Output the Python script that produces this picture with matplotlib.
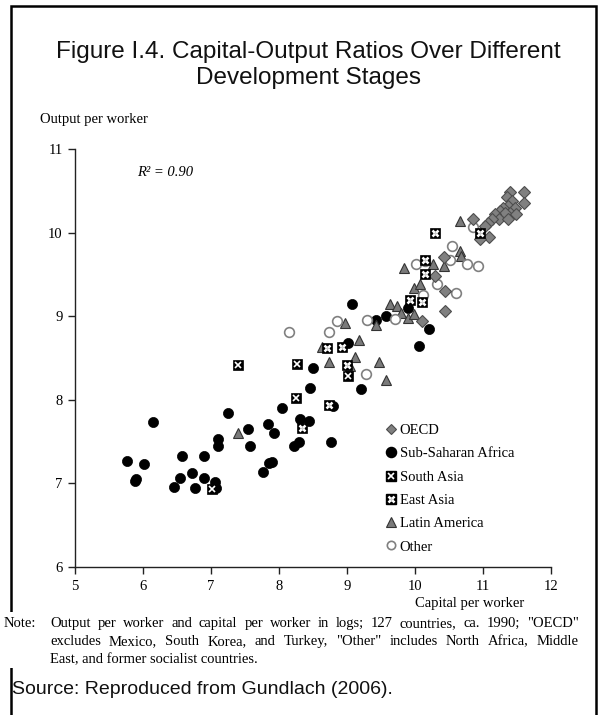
import matplotlib
matplotlib.use("Agg")
import matplotlib.pyplot as plt
from matplotlib.lines import Line2D
from matplotlib.patches import Rectangle

# ---------------- data ----------------
oecd_x = [11.61, 11.40, 11.35, 11.61, 11.42, 11.37, 11.30, 11.25, 11.47, 11.40, 11.49, 11.32, 11.18,
          11.24, 11.13, 11.08, 11.37, 11.03, 10.85, 11.09, 10.95, 10.42, 10.29, 10.44, 10.44, 10.10]
oecd_y = [10.48, 10.48, 10.43, 10.35, 10.38, 10.32, 10.30, 10.26, 10.30, 10.24, 10.22, 10.24, 10.22,
          10.16, 10.16, 10.12, 10.16, 10.08, 10.16, 9.95, 9.92, 9.71, 9.48, 9.30, 9.06, 8.94]

ssa_x = [5.76, 5.88, 5.90, 6.02, 6.15, 6.46, 6.55, 6.58, 6.72, 6.76, 6.89, 6.90, 7.06, 7.08, 7.10, 7.10,
         7.25, 7.54, 7.58, 7.77, 7.84, 7.86, 7.90, 7.93, 8.05, 8.22, 8.30, 8.31, 8.44, 8.45, 8.50, 8.77,
         8.80, 9.01, 9.07, 9.21, 9.43, 9.57, 9.90, 10.06, 10.21]
ssa_y = [7.27, 7.03, 7.05, 7.23, 7.73, 6.96, 7.06, 7.33, 7.12, 6.95, 7.07, 7.33, 7.02, 6.95, 7.53, 7.45,
         7.84, 7.65, 7.45, 7.14, 7.71, 7.24, 7.26, 7.60, 7.90, 7.45, 7.49, 7.77, 7.75, 8.14, 8.38, 7.50,
         7.92, 8.68, 9.14, 8.13, 8.95, 9.00, 9.10, 8.64, 8.85]

sasia_x = [7.02, 7.40, 8.25, 8.26, 9.02]
sasia_y = [6.93, 8.42, 8.02, 8.43, 8.28]

easia_x = [8.34, 8.70, 8.73, 8.92, 9.00, 9.93, 10.11, 10.14, 10.14, 10.29, 10.95]
easia_y = [7.66, 8.62, 7.94, 8.63, 8.42, 9.19, 9.17, 9.51, 9.67, 9.99, 9.99]

latam_x = [7.40, 8.63, 8.74, 8.97, 9.05, 9.12, 9.18, 9.43, 9.47, 9.57, 9.63, 9.73, 9.80, 9.84, 9.90,
           9.98, 9.98, 10.07, 10.27, 10.42, 10.66, 10.67, 10.66]
latam_y = [7.60, 8.63, 8.45, 8.92, 8.41, 8.51, 8.71, 8.90, 8.45, 8.24, 9.14, 9.12, 9.04, 9.58, 8.98,
           9.03, 9.34, 9.39, 9.62, 9.60, 9.78, 9.72, 10.14]

other_x = [8.14, 8.74, 8.86, 9.28, 9.29, 9.71, 10.01, 10.12, 10.15, 10.32, 10.51, 10.54, 10.61,
           10.77, 10.93, 10.86]
other_y = [8.81, 8.81, 8.94, 8.31, 8.96, 8.97, 9.62, 9.25, 9.66, 9.38, 9.67, 9.84, 9.28, 9.62,
           9.60, 10.07]

group_labels = ["OECD", "Sub-Saharan Africa", "South Asia", "East Asia", "Latin America", "Other"]
x_ticks = [5, 6, 7, 8, 9, 10, 11, 12]
y_ticks = [6, 7, 8, 9, 10, 11]

title_lines = ["Figure I.4. Capital-Output Ratios Over Different", "Development Stages"]
note_lines = [
    'Output per worker and capital per worker in logs; 127 countries, ca. 1990; "OECD"',
    'excludes Mexico, South Korea, and Turkey, "Other" includes North Africa, Middle',
    'East, and former socialist countries.',
]
source_text = "Source: Reproduced from Gundlach (2006)."

# ---------------- figure ----------------
W, H = 601, 715
fig = plt.figure(figsize=(W / 100, H / 100), dpi=100)
SERIF = "Liberation Serif"
SANS = "Liberation Sans"

def fx(px):
    return px / W

def fy(py):
    return 1 - py / H

# outer frame
fig.patches.append(Rectangle((fx(11), -0.02), fx(596) - fx(11), fy(6) + 0.02,
                             transform=fig.transFigure, fill=False, lw=1.8,
                             edgecolor="black", zorder=10))
# white patch of the pasted note over the left frame line
fig.patches.append(Rectangle((0, fy(668)), fx(40), fy(612) - fy(668),
                             transform=fig.transFigure, facecolor="white",
                             edgecolor="none", zorder=11))

# title
fig.text(fx(308), fy(52), title_lines[0], ha="center", va="center",
         fontsize=17.5, family=SANS, color="#111111")
fig.text(fx(308), fy(78), title_lines[1], ha="center", va="center",
         fontsize=17.5, family=SANS, color="#111111")

# axes
ax = fig.add_axes([fx(75), fy(567), fx(551) - fx(75), fy(149) - fy(567)])
ax.set_xlim(5, 12)
ax.set_ylim(6, 11)
ax.set_xticks(x_ticks)
ax.set_yticks(y_ticks)
ax.set_xticklabels([str(t) for t in x_ticks], family=SERIF, fontsize=10.5)
ax.set_yticklabels([str(t) for t in y_ticks], family=SERIF, fontsize=10.5)
for s in ["top", "right"]:
    ax.spines[s].set_visible(False)
for s in ["left", "bottom"]:
    ax.spines[s].set_linewidth(1.0)
    ax.spines[s].set_color("#222222")
ax.tick_params(direction="out", length=5, width=1.0, color="#222222", pad=4)

ms = 7
ax.plot(ssa_x, ssa_y, "o", ms=ms + 0.3, mfc="black", mec="black", mew=0.5, zorder=3)
ax.plot(latam_x, latam_y, "^", ms=ms, mfc="#7a7a7a", mec="#333333", mew=0.8, zorder=4)
ax.plot(other_x, other_y, "o", ms=ms, mfc="white", mec="#808080", mew=1.2, zorder=4)
ax.plot(oecd_x, oecd_y, "D", ms=ms - 1, mfc="#808080", mec="#4d4d4d", mew=0.8, zorder=5)
ax.plot(sasia_x, sasia_y, "s", ms=ms - 0.5, mfc="black", mec="black", mew=0.5, zorder=6)
ax.plot(sasia_x, sasia_y, "x", ms=ms - 2.5, mec="white", mew=1.2, zorder=7)
ax.plot(easia_x, easia_y, "s", ms=ms - 0.5, mfc="black", mec="black", mew=0.5, zorder=6)
ax.plot(easia_x, easia_y, "x", ms=ms - 2.5, mec="white", mew=1.8, zorder=7)
ax.plot(easia_x, easia_y, "+", ms=ms - 4, mec="#cccccc", mew=0.8, zorder=8)

ax.text(5.91, 10.72, "R² = 0.90", fontstyle="italic", family=SERIF, fontsize=10.5,
        ha="left", va="center")

# legend
h_oecd = Line2D([], [], ls="none", marker="D", ms=ms - 2, mfc="#808080", mec="#4d4d4d", mew=0.8)
h_ssa = Line2D([], [], ls="none", marker="o", ms=ms + 0.3, mfc="black", mec="black")
h_sa = (Line2D([], [], ls="none", marker="s", ms=ms - 0.5, mfc="black", mec="black"),
        Line2D([], [], ls="none", marker="x", ms=ms - 2.5, mec="white", mew=1.2))
h_ea = (Line2D([], [], ls="none", marker="s", ms=ms - 0.5, mfc="black", mec="black"),
        Line2D([], [], ls="none", marker="x", ms=ms - 2.5, mec="white", mew=1.8),
        Line2D([], [], ls="none", marker="+", ms=ms - 4, mec="#cccccc", mew=0.8))
h_la = Line2D([], [], ls="none", marker="^", ms=ms, mfc="#7a7a7a", mec="#333333", mew=0.8)
h_ot = Line2D([], [], ls="none", marker="o", ms=ms - 1, mfc="white", mec="#808080", mew=1.2)
leg = ax.legend([h_oecd, h_ssa, h_sa, h_ea, h_la, h_ot], group_labels,
                loc="upper left", bbox_to_anchor=(fx(385), fy(424)),
                bbox_transform=fig.transFigure, frameon=False,
                prop={"family": SERIF, "size": 10.5}, handlelength=0.8,
                handletextpad=0.2, labelspacing=0.69, borderpad=0, borderaxespad=0)

# axis labels
fig.text(fx(40), fy(120), "Output per worker", family=SERIF, fontsize=10.5,
         ha="left", va="center")
fig.text(fx(470), fy(604), "Capital per worker", family=SERIF, fontsize=10.5,
         ha="center", va="center")

# note (justified lines, common baseline)
NFS = 10.5
fig.text(fx(4), fy(627), "Note:", family=SERIF, fontsize=NFS, ha="left", va="baseline", zorder=12)
renderer = fig.canvas.get_renderer()
left_px, right_px = 50, 579
for i, line in enumerate(note_lines):
    ypos = fy(627 + 18 * i)
    words = line.split(" ")
    if i == len(note_lines) - 1:
        fig.text(fx(left_px), ypos, line, family=SERIF, fontsize=NFS, ha="left", va="baseline")
        continue
    arts = [fig.text(0, ypos, w, family=SERIF, fontsize=NFS, ha="left", va="baseline") for w in words]
    widths = [a.get_window_extent(renderer).width for a in arts]
    gap = (right_px - left_px - sum(widths)) / (len(words) - 1)
    xcur = left_px
    for a, wdt in zip(arts, widths):
        a.set_x(fx(xcur))
        xcur += wdt + gap

fig.text(fx(12), fy(690), source_text, family=SANS, fontsize=14, ha="left", va="center",
         color="#111111")

fig.savefig("out.png", dpi=100)
